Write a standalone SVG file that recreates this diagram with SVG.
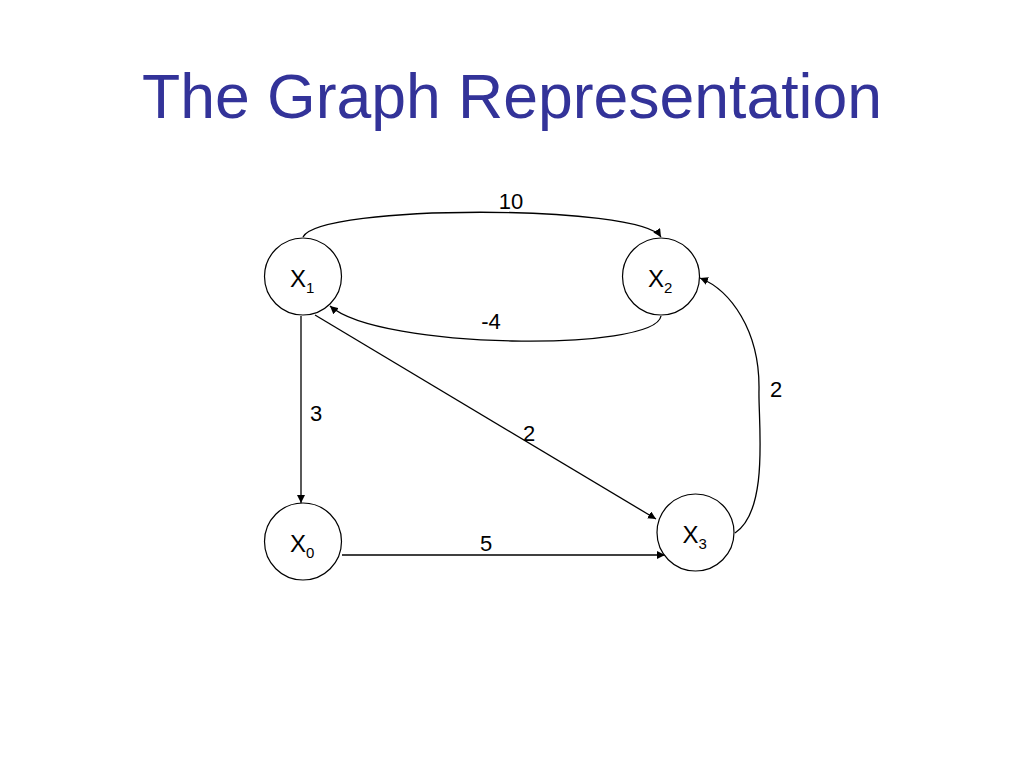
<svg xmlns="http://www.w3.org/2000/svg" width="1024" height="768" viewBox="0 0 1024 768">
<style>
.node{fill:#fff;stroke:#000;stroke-width:1.2}
.lbl{font-family:"Liberation Sans",Arial,sans-serif;font-size:22px;fill:#000}
.nl{font-family:"Liberation Sans",Arial,sans-serif;font-size:24px;fill:#000}
.sub{font-size:15px}
.edge{fill:none;stroke:#000;stroke-width:1.3;marker-end:url(#arr)}
.title{font-family:"Liberation Sans",Arial,sans-serif;font-size:62.5px;fill:#333399}
</style>
<defs>
<marker id="arr" viewBox="0 0 10 10" refX="10" refY="5" markerWidth="8" markerHeight="8" markerUnits="userSpaceOnUse" orient="auto">
<path d="M0,0 L10,5 L0,10 z" fill="#000"/>
</marker>
</defs>
<rect width="1024" height="768" fill="#fff"/>
<text class="title" x="512" y="118" text-anchor="middle">The Graph Representation</text>
<g id="connectors">
<path class="edge" d="M303,237 C320,204 640,204 661,237"/>
<path class="edge" d="M661,316 C655,352 380,350 330,306"/>
<path class="edge" d="M301,316 L301,503"/>
<path class="edge" d="M315,315 L656,519"/>
<path class="edge" d="M342,555 L665,555"/>
<path class="edge" d="M735,533 C770,510 758,420 759,390 C760,330 730,290 700,278"/>
<text class="lbl" x="511" y="209" text-anchor="middle">10</text>
<text class="lbl" x="491" y="329" text-anchor="middle">-4</text>
<text class="lbl" x="316" y="421" text-anchor="middle">3</text>
<text class="lbl" x="529" y="441" text-anchor="middle">2</text>
<text class="lbl" x="486" y="551" text-anchor="middle">5</text>
<text class="lbl" x="776" y="397" text-anchor="middle">2</text>
</g>
<g id="x1"><circle class="node" cx="303" cy="276.5" r="38.5"/><text class="nl" x="290" y="287">X<tspan class="sub" dy="6">1</tspan></text></g>
<g id="x2"><circle class="node" cx="661" cy="276.5" r="38.5"/><text class="nl" x="648" y="287">X<tspan class="sub" dy="6">2</tspan></text></g>
<g id="x0"><circle class="node" cx="303" cy="541.5" r="38.5"/><text class="nl" x="290" y="552">X<tspan class="sub" dy="6">0</tspan></text></g>
<g id="x3"><circle class="node" cx="695.5" cy="532.5" r="38.5"/><text class="nl" x="682.5" y="543">X<tspan class="sub" dy="6">3</tspan></text></g>
</svg>
